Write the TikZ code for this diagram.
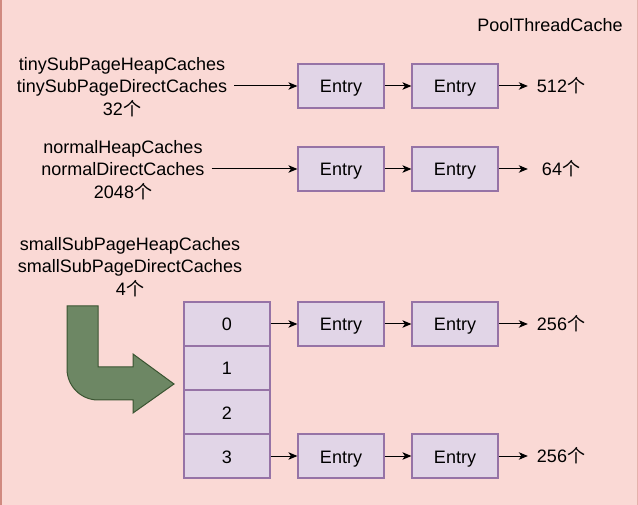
\documentclass[tikz,border=0pt]{standalone}
\usepackage{fontspec}
\setmainfont{Liberation Sans}
\newfontfamily\cjk{Noto Sans CJK SC}
\usetikzlibrary{arrows.meta}
\definecolor{bgpink}{HTML}{FAD9D5}
\definecolor{bgedge}{HTML}{D08A80}
\definecolor{boxfill}{HTML}{E1D5E7}
\definecolor{boxline}{HTML}{9673A6}
\definecolor{greenfill}{HTML}{6D8764}
\definecolor{greenline}{HTML}{3A5431}
\tikzset{
  txt/.style={font=\fontsize{18}{22.5}\selectfont, text=black},
  lbl/.style={txt, align=center, inner sep=7pt},
  entrybox/.style={txt, draw=boxline, fill=boxfill, line width=1.2pt, minimum width=86pt, minimum height=44pt, inner sep=0pt, text height=15pt, text depth=1pt},
  cellbox/.style={entrybox},
  countlbl/.style={txt, minimum width=66pt, inner sep=0pt},
  arr/.style={line width=1pt, -{Stealth[length=9pt,width=7.5pt,inset=2.5pt]}},
}
\begin{document}
\begin{tikzpicture}[x=1pt,y=-1pt]
\useasboundingbox (0,0) rectangle (638,505);
\fill[bgpink] (0,0) rectangle (638,505);
\draw[bgedge, line width=1.2pt] (1,0) -- (1,505);
\draw[bgedge!50!bgpink, line width=1pt] (637.5,0) -- (637.5,505);

\node[txt] (title) at (550,25) {PoolThreadCache};

% row 1
\node[lbl] (l1) at (122,87) {tinySubPageHeapCaches\\tinySubPageDirectCaches\\32{\cjk 个}};
\node[entrybox] (e11) at (341,86) {Entry};
\node[entrybox] (e12) at (455,86) {Entry};
\node[countlbl] (c1) at (561,86) {512{\cjk 个}};
\draw[arr] (l1.east |- e11.west) -- (e11.west);
\draw[arr] (e11.east) -- (e12.west);
\draw[arr] (e12.east) -- (c1.west);

% row 2
\node[lbl] (l2) at (123,170) {normalHeapCaches\\normalDirectCaches\\2048{\cjk 个}};
\node[entrybox] (e21) at (341,169) {Entry};
\node[entrybox] (e22) at (455,169) {Entry};
\node[countlbl] (c2) at (561,169) {64{\cjk 个}};
\draw[arr] (l2.east |- e21.west) -- (e21.west);
\draw[arr] (e21.east) -- (e22.west);
\draw[arr] (e22.east) -- (c2.west);

% row 3 label
\node[lbl] (l3) at (130,267) {smallSubPageHeapCaches\\smallSubPageDirectCaches\\4{\cjk 个}};

% array cells
\node[cellbox] (a0) at (227,324) {0};
\node[cellbox] (a1) at (227,368) {1};
\node[cellbox] (a2) at (227,412) {2};
\node[cellbox] (a3) at (227,456) {3};

\node[entrybox] (e31) at (341,324) {Entry};
\node[entrybox] (e32) at (455,324) {Entry};
\node[countlbl] (c3) at (561,324) {256{\cjk 个}};
\draw[arr] (a0.east) -- (e31.west);
\draw[arr] (e31.east) -- (e32.west);
\draw[arr] (e32.east) -- (c3.west);

\node[entrybox] (e41) at (341,456) {Entry};
\node[entrybox] (e42) at (455,456) {Entry};
\node[countlbl] (c4) at (561,456) {256{\cjk 个}};
\draw[arr] (a3.east) -- (e41.west);
\draw[arr] (e41.east) -- (e42.west);
\draw[arr] (e42.east) -- (c4.west);

% bent green arrow
\draw[fill=greenfill, draw=greenline, line width=1pt, line join=miter]
  (67,306) -- (98,306) -- (98,367) -- (133,367) -- (133,354) -- (174,384)
  -- (133,413) -- (133,400) -- (98,400)
  .. controls (81,400) and (67,386) .. (67,369) -- cycle;
\end{tikzpicture}
\end{document}
